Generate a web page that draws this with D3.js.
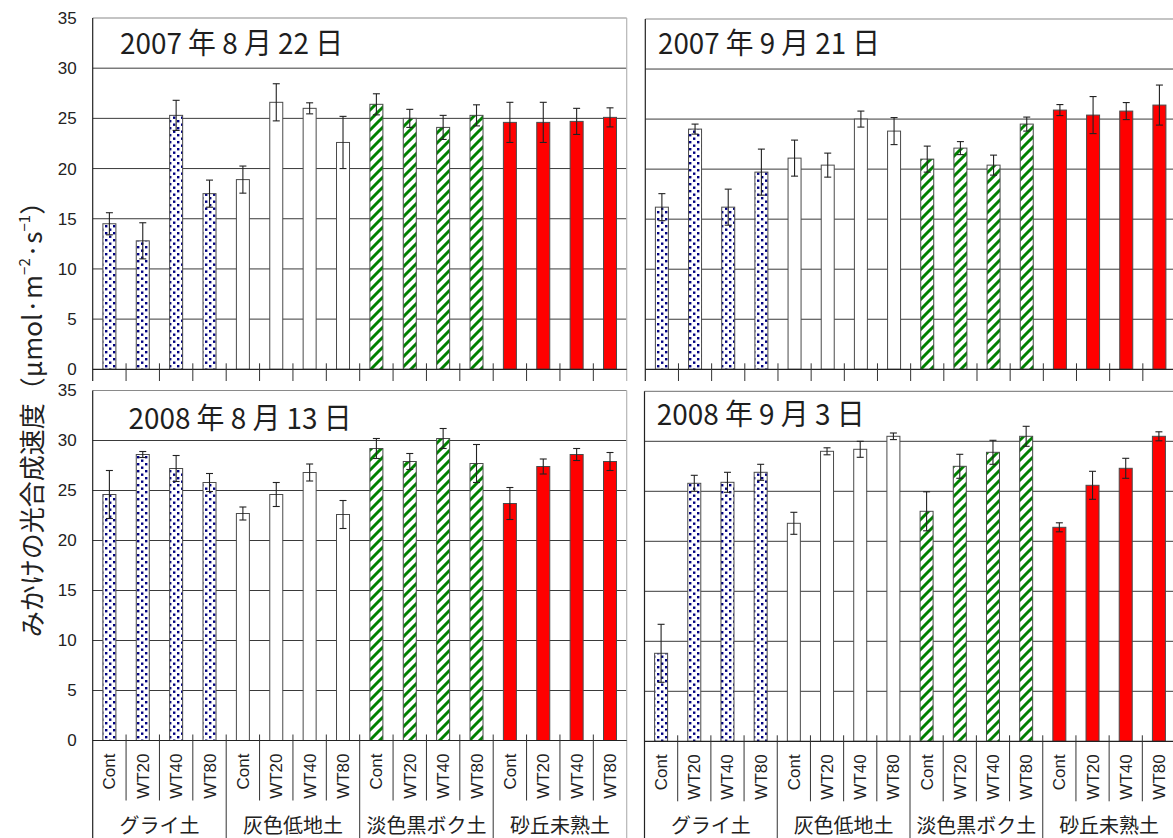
<!DOCTYPE html>
<html><head><meta charset="utf-8">
<script src="https://cdn.jsdelivr.net/npm/d3@7"></script>
<style>body{margin:0;background:#fff}svg{display:block}</style>
</head><body>
<svg id="chart" width="1173" height="838"></svg>
<script>
// Soil groups and water-table treatments on the category axis
const soilTypes = ["グライ土", "灰色低地土", "淡色黒ボク土", "砂丘未熟土"];
const treatments = ["Cont", "WT20", "WT40", "WT80"];
const yTickValues = [0, 5, 10, 15, 20, 25, 30, 35];
const dateTitles = ["2007 年 8 月 22 日", "2007 年 9 月 21 日", "2008 年 8 月 13 日", "2008 年 9 月 3 日"];

// Apparent photosynthetic rate (mean) and error, 16 bars per date: soil x treatment
const rate20070822 = [14.5, 12.8, 25.3, 17.5, 18.9, 26.6, 26.0, 22.6, 26.4, 25.0, 24.1, 25.3, 24.6, 24.6, 24.7, 25.1];
const err20070822  = [1.1, 1.8, 1.5, 1.35, 1.35, 1.85, 0.55, 2.6, 1.05, 0.9, 1.2, 1.05, 2.0, 2.0, 1.3, 0.95];
const rate20070921 = [16.2, 24.0, 16.2, 19.7, 21.1, 20.4, 25.0, 23.8, 21.0, 22.1, 20.4, 24.5, 25.9, 25.4, 25.8, 26.4];
const err20070921  = [1.35, 0.5, 1.8, 2.3, 1.8, 1.2, 0.8, 1.35, 1.3, 0.65, 1.0, 0.7, 0.55, 1.85, 0.85, 2.0];
const rate20080813 = [24.6, 28.6, 27.2, 25.8, 22.7, 24.6, 26.8, 22.6, 29.2, 27.9, 30.2, 27.7, 23.7, 27.4, 28.6, 27.9];
const err20080813  = [2.4, 0.3, 1.3, 0.9, 0.65, 1.2, 0.85, 1.4, 1.0, 0.8, 1.0, 1.9, 1.6, 0.75, 0.6, 0.9];
const rate20080903 = [8.8, 25.8, 25.9, 26.9, 21.8, 29.0, 29.2, 30.5, 23.0, 27.5, 28.9, 30.5, 21.4, 25.6, 27.3, 30.5];
const err20080903  = [2.9, 0.8, 1.0, 0.8, 1.1, 0.35, 0.8, 0.33, 1.95, 1.2, 1.2, 1.0, 0.45, 1.4, 1.0, 0.45];

const svg = d3.select("#chart");
const defs = svg.append("defs");

// Fill patterns per soil group
const dots = defs.append("pattern").attr("id", "dots").attr("patternUnits", "userSpaceOnUse")
  .attr("width", 8).attr("height", 7);
dots.append("rect").attr("width", 8).attr("height", 7).attr("fill", "#fff");
dots.append("rect").attr("x", 1).attr("y", 1).attr("width", 2.4).attr("height", 2.4).attr("fill", "#000080");
dots.append("rect").attr("x", 5).attr("y", 4.5).attr("width", 2.4).attr("height", 2.4).attr("fill", "#000080");

const stripes = defs.append("pattern").attr("id", "stripes").attr("patternUnits", "userSpaceOnUse")
  .attr("width", 10).attr("height", 10);
stripes.append("rect").attr("width", 10).attr("height", 10).attr("fill", "#fff");
stripes.append("path").attr("d", "M-5,5 L5,-5 M0,10 L10,0 M5,15 L15,5")
  .attr("stroke", "#008000").attr("stroke-width", 3);

const soilFills = ["url(#dots)", "#ffffff", "url(#stripes)", "#ff0000"];

defs.append("clipPath").attr("id", "topClip").append("rect")
  .attr("x", 0).attr("y", 0).attr("width", 1173).attr("height", 381);

const keys = [];
soilTypes.forEach(s => treatments.forEach(t => keys.push(s + "|" + t)));

const panels = [
  { title: dateTitles[0], rate: rate20070822, err: err20070822, x0: 92.7, x1: 626.7, yTop: 18, yBase: 369.3,
    titleX: 120, titleY: 53.5, titleLen: 223, yLabels: true, top: true },
  { title: dateTitles[1], rate: rate20070921, err: err20070921, x0: 645.3, x1: 1176, yTop: 19, yBase: 369.3,
    titleX: 658, titleY: 53.5, titleLen: 222, yLabels: false, top: true },
  { title: dateTitles[2], rate: rate20080813, err: err20080813, x0: 92.7, x1: 626.7, yTop: 390.5, yBase: 740.5,
    titleX: 128.5, titleY: 428.5, titleLen: 223, yLabels: true, top: false },
  { title: dateTitles[3], rate: rate20080903, err: err20080903, x0: 644.5, x1: 1175.5, yTop: 391.3, yBase: 741.3,
    titleX: 656.7, titleY: 425, titleLen: 208, yLabels: false, top: false }
];

panels.forEach(p => {
  const g = svg.append("g");
  if (p.top) g.attr("clip-path", "url(#topClip)");
  const x = d3.scaleBand().domain(keys).range([p.x0, p.x1]).padding(0);
  const y = d3.scaleLinear().domain([0, 35]).range([p.yBase, p.yTop]);
  const bw = x.bandwidth();
  const barW = 13;

  // horizontal gridlines
  g.append("g").selectAll("line").data(yTickValues.filter(v => v > 0 && v < 35)).join("line")
    .attr("x1", p.x0).attr("x2", p.x1).attr("y1", d => y(d)).attr("y2", d => y(d))
    .attr("stroke", "#3a3a3a").attr("stroke-width", 1);
  // frame top and right
  g.append("line").attr("x1", p.x0).attr("x2", p.x1).attr("y1", y(35)).attr("y2", y(35))
    .attr("stroke", "#8a8a8a").attr("stroke-width", 1.2);
  g.append("line").attr("x1", p.x1).attr("x2", p.x1).attr("y1", y(35)).attr("y2", p.top ? 381 : 838)
    .attr("stroke", "#b5b5b5").attr("stroke-width", 1.2);

  // date title
  g.append("text").attr("x", p.titleX).attr("y", p.titleY)
    .attr("textLength", p.titleLen).attr("lengthAdjust", "spacingAndGlyphs")
    .style("font-family", "'Noto Sans CJK JP', sans-serif").style("font-size", "29px")
    .attr("fill", "#1e1e1e").text(p.title);

  // bars
  g.append("g").selectAll("rect").data(p.rate).join("rect")
    .attr("x", (d, i) => x(keys[i]) + (bw - barW) / 2)
    .attr("y", d => y(d))
    .attr("width", barW)
    .attr("height", d => y(0) - y(d))
    .attr("fill", (d, i) => soilFills[Math.floor(i / 4)])
    .attr("stroke", "#4a4a4a").attr("stroke-width", 1);

  // error bars
  const eg = g.append("g").attr("stroke", "#222").attr("stroke-width", 1.1);
  p.rate.forEach((v, i) => {
    const cx = x(keys[i]) + bw / 2;
    const hi = y(v + p.err[i]), lo = y(v - p.err[i]);
    eg.append("line").attr("x1", cx).attr("x2", cx).attr("y1", hi).attr("y2", lo);
    eg.append("line").attr("x1", cx - 3.5).attr("x2", cx + 3.5).attr("y1", hi).attr("y2", hi);
    eg.append("line").attr("x1", cx - 3.5).attr("x2", cx + 3.5).attr("y1", lo).attr("y2", lo);
  });

  // baseline and left axis
  g.append("line").attr("x1", p.x0).attr("x2", p.x1).attr("y1", y(0)).attr("y2", y(0))
    .attr("stroke", "#222").attr("stroke-width", 1.2);
  g.append("line").attr("x1", p.x0).attr("x2", p.x0).attr("y1", y(35)).attr("y2", p.top ? 381 : 838)
    .attr("stroke", "#222").attr("stroke-width", 1.2);

  // category separators
  const bounds = d3.range(1, keys.length);
  g.append("g").selectAll("line").data(bounds).join("line")
    .attr("x1", i => x(keys[i])).attr("x2", i => x(keys[i]))
    .attr("y1", y(0) - 6)
    .attr("y2", i => i % 4 === 0 ? 838 : y(0) + 60)
    .attr("stroke", "#333").attr("stroke-width", 1);

  // treatment labels (rotated)
  g.append("g").selectAll("text").data(keys).join("text")
    .attr("transform", k => `translate(${x(k) + bw / 2 + 6},${y(0) + 13}) rotate(-90)`)
    .attr("text-anchor", "end")
    .style("font-family", "'Liberation Sans', Arial, sans-serif").style("font-size", "17px")
    .attr("fill", "#222").text(k => k.split("|")[1]);

  // soil group labels
  g.append("g").selectAll("text").data(soilTypes).join("text")
    .attr("x", s => (x(s + "|Cont") + x(s + "|WT80") + bw) / 2)
    .attr("y", y(0) + 92)
    .attr("text-anchor", "middle")
    .style("font-family", "'Noto Sans CJK JP', sans-serif").style("font-size", "20px")
    .attr("fill", "#222").text(s => s);

  // y tick labels
  if (p.yLabels) {
    const ax = d3.axisLeft(y).tickValues(yTickValues).tickSize(0).tickPadding(16);
    const ag = g.append("g").attr("transform", `translate(${p.x0},0)`).call(ax);
    ag.select(".domain").remove();
    ag.selectAll("text").style("font-family", "'Liberation Sans', Arial, sans-serif")
      .style("font-size", "17px").attr("fill", "#222");
  }
});

// y axis title
const yl = svg.append("text").attr("transform", "translate(42,413) rotate(-90)")
  .attr("text-anchor", "middle")
  .style("font-family", "'Noto Sans CJK JP', sans-serif").style("font-size", "26px")
  .attr("fill", "#222");
yl.append("tspan").text("みかけの光合成速度（μmol·m");
yl.append("tspan").attr("dy", -12).style("font-size", "15px").text("−2");
yl.append("tspan").attr("dy", 12).text("·s");
yl.append("tspan").attr("dy", -12).style("font-size", "15px").text("−1");
yl.append("tspan").attr("dy", 12).text("）");
</script>
</body></html>
